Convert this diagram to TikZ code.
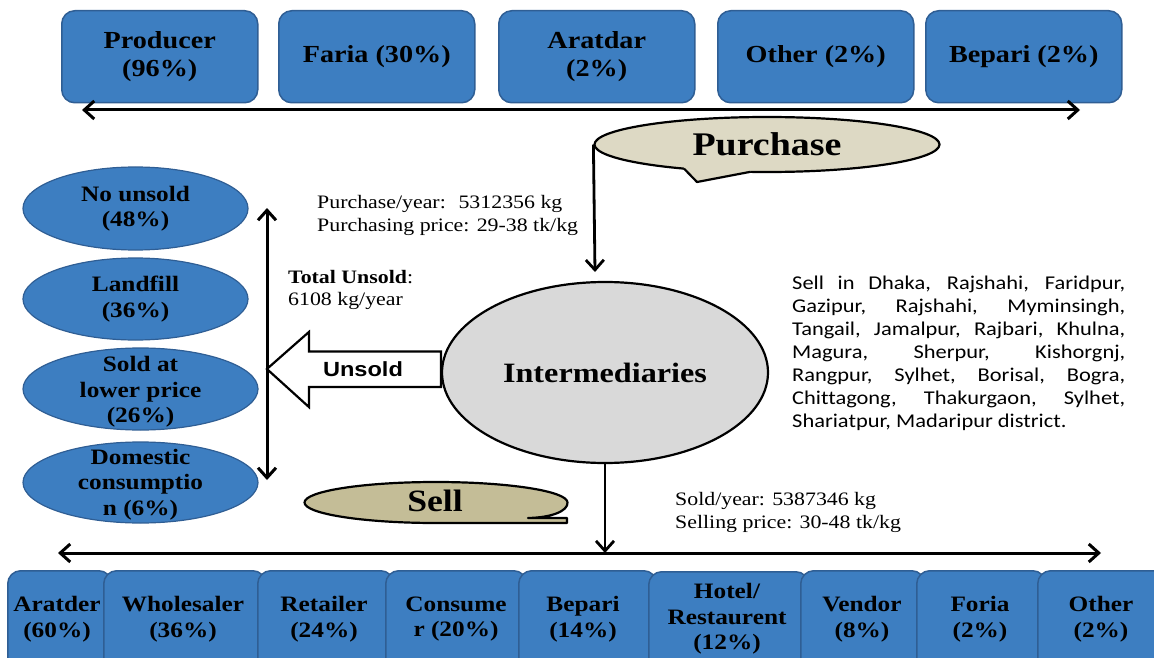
\documentclass[tikz,border=0pt]{standalone}
\usepackage{fontspec}
\setmainfont{Liberation Serif}[FakeStretch=1.15]
\newfontfamily\sansw{Liberation Sans}[FakeStretch=1.15]
\newfontfamily\calw{Carlito}[FakeStretch=1.15,Ligatures=NoCommon]
\usetikzlibrary{arrows.meta,shapes.geometric,calc}
\definecolor{boxblue}{RGB}{61,126,193}
\definecolor{boxedge}{RGB}{47,94,148}
\definecolor{purfill}{RGB}{221,217,196}
\definecolor{sellfill}{RGB}{196,189,151}
\definecolor{intfill}{RGB}{217,217,217}
\tikzset{
  topbox/.style={draw=boxedge, fill=boxblue, line width=1.5pt, rounded corners=13pt,
    minimum width=196pt, minimum height=92pt, anchor=north west, inner sep=0pt,
    align=center, font=\bfseries\fontsize{24.5}{28}\selectfont},
  botbox/.style={draw=boxedge, fill=boxblue, line width=1.5pt, rounded corners=13pt,
    minimum height=120pt, anchor=north west, inner sep=0pt},
  blueell/.style={ellipse, draw=boxedge, fill=boxblue, line width=1.2pt, inner sep=0pt},
  btext/.style={font=\bfseries\fontsize{22}{25.5}\selectfont, align=center, inner sep=0pt},
  info/.style={font=\fontsize{19}{23}\selectfont, anchor=base west, inner sep=0pt},
  para/.style={font=\calw\fontsize{19.5}{23}\selectfont, anchor=base west, inner sep=0pt},
  dblarrow/.style={line width=3pt, {Straight Barb[length=10pt,width=18pt]}-{Straight Barb[length=10pt,width=18pt]}},
  conn/.style={line width=2.8pt, -{Straight Barb[length=10pt,width=18pt]}},
  outl/.style={draw=black, line width=2.2pt, line join=round},
}
\begin{document}
\begin{tikzpicture}[x=1pt,y=-1pt]
\useasboundingbox (0,0) rectangle (1154,658);
\clip (0,0) rectangle (1154,658);

% ---------- top boxes ----------
\node[topbox] (t1) at (61,10) {Producer\\(96\%)};
\node[topbox] (t2) at (278,10) {Faria (30\%)};
\node[topbox] (t3) at (498,10) {Aratdar\\(2\%)};
\node[topbox] (t4) at (717,10) {Other (2\%)};
\node[topbox] (t5) at (925,10) {Bepari (2\%)};

\coordinate (ta1) at (82,110);
\coordinate (ta2) at (1080,110);
\draw[dblarrow] (ta1) -- (ta2);

% ---------- Purchase callout ----------
\node[ellipse, outl, fill=purfill, minimum width=345pt, minimum height=55pt, inner sep=0pt,
      font=\bfseries\fontsize{33}{36}\selectfont] (pur) at (767,144.5) {Purchase};
\fill[purfill] (683,163) -- (684,168.6) -- (697,182) -- (750,171.9) -- (751,163) -- cycle;
\draw[outl] (684,168.6) -- (697,182) -- (750,171.9);

\coordinate (pend) at (595,272);
\draw[conn] (pur.west) -- (pend);

% ---------- Intermediaries ----------
\node[ellipse, outl, fill=intfill, minimum width=326pt, minimum height=181pt, inner sep=0pt,
      font=\bfseries\fontsize{28}{32}\selectfont] (int) at (605,372.5) {Intermediaries};

% Unsold block arrow
\draw[outl, fill=white, line join=miter]
  ($(int.west)+(0,-21)$) -- ($(int.west)+(-132,-21)$) -- ($(int.west)+(-132,-40.5)$)
  -- ($(int.west)+(-174,-3.5)$) -- ($(int.west)+(-132,34.5)$) -- ($(int.west)+(-132,14.5)$)
  -- ($(int.west)+(0,14.5)$) -- cycle;
\node[font=\sansw\bfseries\fontsize{20.5}{24}\selectfont, inner sep=0pt] (ut) at (363,369) {Unsold};

% vertical double arrow
\coordinate (va1) at (267,208);
\coordinate (va2) at (267,480);
\draw[dblarrow] (va1) -- (va2);

% ---------- left ellipses ----------
\node[blueell, minimum width=225pt, minimum height=83pt] (e1) at (135.5,208.5) {};
\node[btext] (e1t) at (e1.center) {No unsold\\(48\%)};
\node[blueell, minimum width=225pt, minimum height=82pt] (e2) at (135.5,299) {};
\node[btext] (e2t) at (e2.center) {Landfill\\(36\%)};
\node[blueell, minimum width=235pt, minimum height=82pt] (e3) at (140.5,389) {};
\node[btext] (e3t) at (140.5,392) {Sold at\\lower price\\(26\%)};
\node[blueell, minimum width=235pt, minimum height=81pt] (e4) at (140.5,482.5) {};
\node[btext] (e4t) at (140.5,484.5) {Domestic\\consumptio\\n (6\%)};

% ---------- info texts ----------
\node[info] (pi1) at (317,208) {Purchase/year:~ 5312356 kg};
\node[info] (pi2) at (317,231) {Purchasing price: 29-38 tk/kg};
\node[info] (tu1) at (288,283) {\textbf{Total Unsold}:};
\node[info] (tu2) at (288,305) {6108 kg/year};
\node[info] (si1) at (675,505) {Sold/year: 5387346 kg};
\node[info] (si2) at (675,528) {Selling price: 30-48 tk/kg};

% paragraph
\node[para] (p1) at (792,289) {\makebox[333pt][s]{Sell in Dhaka, Rajshahi, Faridpur,}};
\node[para] (p2) at (792,312) {\makebox[333pt][s]{Gazipur, Rajshahi, Myminsingh,}};
\node[para] (p3) at (792,335) {\makebox[333pt][s]{Tangail, Jamalpur, Rajbari, Khulna,}};
\node[para] (p4) at (792,358) {\makebox[333pt][s]{Magura, Sherpur, Kishorgnj,}};
\node[para] (p5) at (792,381) {\makebox[333pt][s]{Rangpur, Sylhet, Borisal, Bogra,}};
\node[para] (p6) at (792,404) {\makebox[333pt][s]{Chittagong, Thakurgaon, Sylhet,}};
\node[para] (p7) at (792,427) {Shariatpur, Madaripur district.};

% ---------- Sell callout ----------
\draw[outl, fill=sellfill]
  (304.5,502.5) arc[start angle=180, end angle=0, x radius=131.5pt, y radius=20.5pt]
  .. controls (568,511) and (552,517.5) .. (528,518) -- (567,518) -- (567,523)
  -- (436,523) arc[start angle=270, end angle=180, x radius=131.5pt, y radius=20.5pt] -- cycle;
\node[font=\bfseries\fontsize{31}{34}\selectfont, inner sep=0pt] (sellt) at (435,501) {Sell};

% ---------- bottom arrow ----------
\coordinate (ba1) at (58,553);
\coordinate (ba2) at (1101,553);
\draw[conn] (int.south) -- (int.south |- ba1);
\draw[dblarrow] (ba1) -- (ba2);

% ---------- bottom boxes ----------
\node[botbox, minimum width=104pt] (b1) at (7,570) {};
\node[botbox, minimum width=162pt] (b2) at (103,570) {};
\node[botbox, minimum width=136pt] (b3) at (257,570) {};
\node[botbox, minimum width=141pt] (b4) at (385,570) {};
\node[botbox, minimum width=138pt] (b5) at (518,570) {};
\node[botbox, minimum width=160pt] (b6) at (648,571) {};
\node[botbox, minimum width=124pt] (b7) at (800,570) {};
\node[botbox, minimum width=129pt] (b8) at (916,570) {};
\node[botbox, minimum width=140pt] (b9) at (1037,570) {};

\node[btext] (bt1) at (57,619) {Aratder\\(60\%)};
\node[btext] (bt2) at (183,619) {Wholesaler\\(36\%)};
\node[btext] (bt3) at (324,619) {Retailer\\(24\%)};
\node[btext] (bt4) at (456,619) {Consume\\r (20\%)};
\node[btext] (bt5) at (583,619) {Bepari\\(14\%)};
\node[btext] (bt6) at (727,619) {Hotel/\\Restaurent\\(12\%)};
\node[btext] (bt7) at (862,619) {Vendor\\(8\%)};
\node[btext] (bt8) at (980,619) {Foria\\(2\%)};
\node[btext] (bt9) at (1101,619) {Other\\(2\%)};
\end{tikzpicture}
\end{document}
